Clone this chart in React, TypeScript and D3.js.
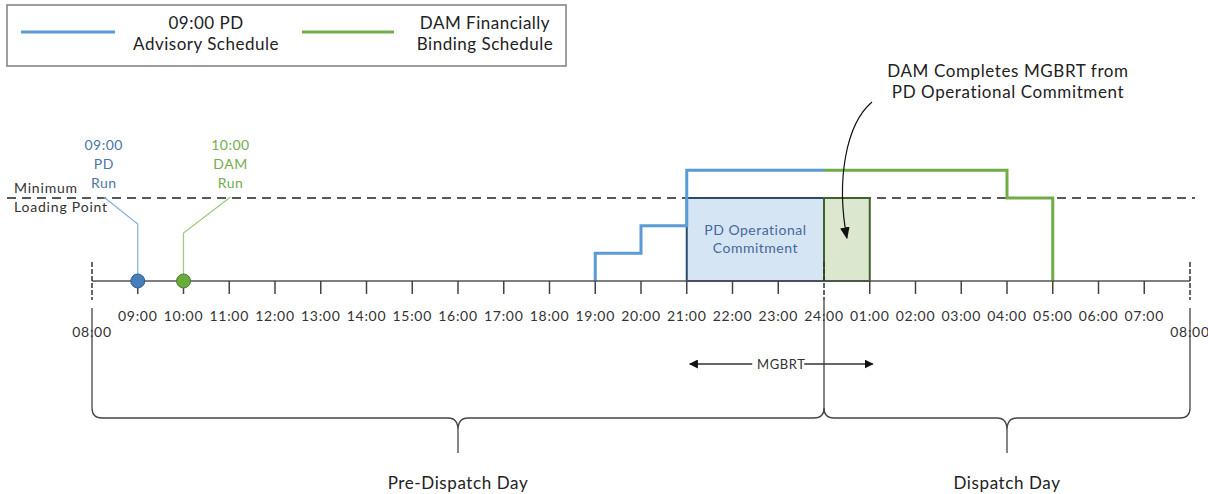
import * as d3 from "d3";

// hours counted from 08:00 on the pre-dispatch day
const tickHours = d3.range(1, 24);
const tickLabels = [
  "09:00", "10:00", "11:00", "12:00", "13:00", "14:00", "15:00", "16:00",
  "17:00", "18:00", "19:00", "20:00", "21:00", "22:00", "23:00", "24:00",
  "01:00", "02:00", "03:00", "04:00", "05:00", "06:00", "07:00",
];
const endHours = [0, 24];
const endLabel = "08:00";

// output levels (minimum loading point = 60)
const minLoading = 60;
const pdHours = [11, 11, 12, 13, 16];
const pdLevels = [0, 20, 40, 80, 80];
const damHours = [16, 20, 21];
const damLevels = [80, 60, 0];

const pdCommit = [13, 16];
const damCommit = [16, 17];
const mgbrt = [13, 17];
const dayBreak = 16;

const runHours = [1, 2];
const runLabels = [["09:00", "PD", "Run"], ["10:00", "DAM", "Run"]];

const FONT = "Lato, 'Open Sans', sans-serif";
const BLUE = "#5b9bd5";
const GREEN = "#70ad47";
const INK = "#333";

export default function App() {
  const width = 1208;
  const height = 494;
  const x = d3.scaleLinear().domain([0, 24]).range([92, 1190]);
  const y = d3.scaleLinear().domain([0, minLoading]).range([281, 198]);
  const axisY = y(0);

  const step = d3
    .line<[number, number]>()
    .x((d) => x(d[0]))
    .y((d) => y(d[1]))
    .curve(d3.curveStepAfter);

  const pdPts = pdHours.map((h, i) => [h, pdLevels[i]] as [number, number]);
  const damPts = damHours.map((h, i) => [h, damLevels[i]] as [number, number]);

  const braceY = 418;
  const r = 10;
  const brace = (a: number, b: number) => {
    const xa = x(a), xb = x(b), m = (xa + xb) / 2;
    return `M${xa},${braceY - r} Q${xa},${braceY} ${xa + r},${braceY} H${m - r} Q${m},${braceY} ${m},${braceY + 12} Q${m},${braceY} ${m + r},${braceY} H${xb - r} Q${xb},${braceY} ${xb},${braceY - r}`;
  };

  const runColors = [
    { fill: "#4a7ebb", stroke: "#2f5f94", text: "#4a76a8", lead: "#86aedb" },
    { fill: "#6aaa3c", stroke: "#4a7d2a", text: "#74ad4c", lead: "#9ccb7a" },
  ];
  const runLabelX = [x(1) - 34, x(2) + 47];

  const arrowTip: [number, number] = [x(16.5), y(31)];

  return (
    <svg
      width={width}
      height={height}
      style={{ position: "absolute", left: 0, top: 0, background: "#fff" }}
      fontFamily={FONT}
    >
      <defs>
        <marker id="ah" viewBox="0 0 10 10" refX="9" refY="5" markerWidth="9" markerHeight="9" orient="auto-start-reverse" markerUnits="userSpaceOnUse">
          <path d="M0,0 L10,5 L0,10 z" fill="#111" />
        </marker>
        <marker id="ah2" viewBox="0 0 10 10" refX="9" refY="5" markerWidth="12" markerHeight="12" orient="auto" markerUnits="userSpaceOnUse">
          <path d="M0,1 L10,5 L0,9 z" fill="#111" />
        </marker>
      </defs>

      {/* legend */}
      <rect x={7} y={5} width={559} height={61} fill="#fff" stroke="#7f7f7f" strokeWidth={1.5} />
      <line x1={21} x2={115} y1={32} y2={32} stroke={BLUE} strokeWidth={3} />
      <text textAnchor="middle" fontSize={17} letterSpacing={0.5} fill="#222">
        <tspan x={206} y={29}>09:00 PD</tspan>
        <tspan x={206} y={49.5}>Advisory Schedule</tspan>
      </text>
      <line x1={302} x2={394} y1={32} y2={32} stroke={GREEN} strokeWidth={3} />
      <text textAnchor="middle" fontSize={17} letterSpacing={0.5} fill="#222">
        <tspan x={485} y={29}>DAM Financially</tspan>
        <tspan x={485} y={49.5}>Binding Schedule</tspan>
      </text>

      {/* minimum loading point */}
      <line x1={7} x2={1195} y1={y(minLoading)} y2={y(minLoading)} stroke="#222" strokeWidth={1.5} strokeDasharray="9,6" />
      <text fontSize={14} letterSpacing={0.8} fill={INK}>
        <tspan x={14} y={193}>Minimum</tspan>
        <tspan x={14} y={212}>Loading Point</tspan>
      </text>

      {/* commitment boxes */}
      <rect x={x(pdCommit[0])} y={y(minLoading)} width={x(pdCommit[1]) - x(pdCommit[0])} height={y(0) - y(minLoading)} fill="#d6e5f4" stroke="#2c4a70" strokeWidth={2} />
      <text textAnchor="middle" fontSize={14} letterSpacing={0.5} fill="#44689a">
        <tspan x={x(14.5)} y={235}>PD Operational</tspan>
        <tspan x={x(14.5)} y={253}>Commitment</tspan>
      </text>
      <rect x={x(damCommit[0])} y={y(minLoading)} width={x(damCommit[1]) - x(damCommit[0])} height={y(0) - y(minLoading)} fill="#dbe8cf" stroke="#40602c" strokeWidth={2} />

      {/* schedules */}
      <path d={step(pdPts) as string} fill="none" stroke={BLUE} strokeWidth={3} />
      <path d={step(damPts) as string} fill="none" stroke={GREEN} strokeWidth={3} />

      {/* axis */}
      <line x1={x(0)} x2={x(24)} y1={axisY} y2={axisY} stroke="#555" strokeWidth={1.5} />
      {tickHours.map((h, i) =>
        h === dayBreak ? null : (
          <line key={"t" + i} x1={x(h)} x2={x(h)} y1={axisY} y2={axisY + 13} stroke="#444" strokeWidth={1.5} />
        )
      )}
      {tickHours.map((h, i) => (
        <text key={"l" + i} x={x(h)} y={321} textAnchor="middle" fontSize={14} letterSpacing={0.7} fill={INK}>
          {tickLabels[i]}
        </text>
      ))}
      {endHours.map((h) => (
        <g key={"e" + h}>
          <line x1={x(h)} x2={x(h)} y1={262} y2={300} stroke="#333" strokeWidth={1.5} strokeDasharray="5,2" />
          <line x1={x(h)} x2={x(h)} y1={308} y2={braceY - r} stroke="#333" strokeWidth={1.2} />
          <text x={x(h)} y={337} textAnchor="middle" fontSize={14} letterSpacing={0.7} fill={INK}>{endLabel}</text>
        </g>
      ))}
      <line x1={x(dayBreak)} x2={x(dayBreak)} y1={262} y2={300} stroke="#333" strokeWidth={1.5} strokeDasharray="5,2" />
      <line x1={x(dayBreak)} x2={x(dayBreak)} y1={300} y2={braceY - r} stroke="#333" strokeWidth={1.2} />

      {/* run markers */}
      {runHours.map((h, i) => {
        const c = runColors[i];
        const lx = runLabelX[i];
        const bend = i === 0 ? 224 : 233;
        return (
          <g key={"r" + i}>
            <polyline points={`${x(h)},${axisY} ${x(h)},${bend} ${lx},${y(minLoading) - 1}`} fill="none" stroke={c.lead} strokeWidth={1.2} />
            <circle cx={x(h)} cy={axisY} r={7} fill={c.fill} stroke={c.stroke} strokeWidth={1} />
            <text textAnchor="middle" fontSize={14} letterSpacing={0.5} fill={c.text}>
              {runLabels[i].map((s, j) => (
                <tspan key={j} x={lx} y={150 + j * 19}>{s}</tspan>
              ))}
            </text>
          </g>
        );
      })}

      {/* MGBRT */}
      <line x1={x(mgbrt[0]) + 3} x2={x(mgbrt[1]) + 3} y1={364} y2={364} stroke="#333" strokeWidth={1.5} markerStart="url(#ah)" markerEnd="url(#ah)" />
      <rect x={(x(mgbrt[0]) + x(mgbrt[1])) / 2 - 26} y={356} width={52} height={16} fill="#fff" />
      <text x={(x(mgbrt[0]) + x(mgbrt[1])) / 2 + 3} y={368.5} textAnchor="middle" fontSize={13} letterSpacing={0.6} fill={INK}>MGBRT</text>

      {/* annotation */}
      <text textAnchor="middle" fontSize={17} letterSpacing={0.6} fill="#222">
        <tspan x={1008} y={77}>DAM Completes MGBRT from</tspan>
        <tspan x={1008} y={98}>PD Operational Commitment</tspan>
      </text>
      <path d={`M872,102 C846,124 836,180 ${arrowTip[0]},${arrowTip[1]}`} fill="none" stroke="#111" strokeWidth={1.2} markerEnd="url(#ah2)" />

      {/* braces */}
      <path d={brace(0, dayBreak)} fill="none" stroke="#444" strokeWidth={1.3} />
      <path d={brace(dayBreak, 24)} fill="none" stroke="#444" strokeWidth={1.3} />
      <line x1={x(dayBreak / 2)} x2={x(dayBreak / 2)} y1={braceY + 12} y2={453} stroke="#444" strokeWidth={1.3} />
      <line x1={x(20)} x2={x(20)} y1={braceY + 12} y2={453} stroke="#444" strokeWidth={1.3} />
      <text x={x(dayBreak / 2)} y={489} textAnchor="middle" fontSize={17} letterSpacing={0.6} fill="#222">Pre-Dispatch Day</text>
      <text x={x(20)} y={489} textAnchor="middle" fontSize={17} letterSpacing={0.6} fill="#222">Dispatch Day</text>
    </svg>
  );
}
